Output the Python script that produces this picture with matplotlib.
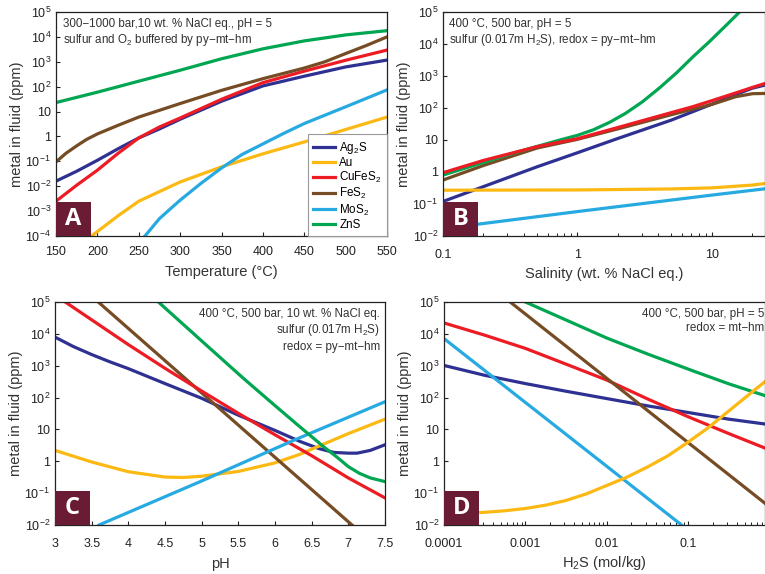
import math
import matplotlib
matplotlib.use("Agg")
import matplotlib.pyplot as plt
from matplotlib.patches import Rectangle
from matplotlib.ticker import FixedLocator, FuncFormatter, NullLocator, LogLocator, NullFormatter

plt.rcParams['font.family'] = ['Liberation Sans', 'DejaVu Sans']
plt.rcParams['mathtext.fontset'] = 'custom'
plt.rcParams['mathtext.rm'] = 'Liberation Sans'
plt.rcParams['mathtext.it'] = 'Liberation Sans'

minerals = ['Ag$_2$S', 'Au', 'CuFeS$_2$', 'FeS$_2$', 'MoS$_2$', 'ZnS']
colors = ['#2E3192', '#FDB913', '#ED1C24', '#754C24', '#27AAE1', '#00A651']

# Panel A: temperature (°C) vs metal in fluid (ppm)
a_ag2s_T = [150, 175, 200, 225, 250, 275, 300, 350, 400, 450, 500, 550]
a_ag2s = [0.016, 0.04, 0.11, 0.32, 0.87, 2.0, 4.9, 26, 107, 263, 620, 1170]
a_au_T = [185, 193, 225, 250, 300, 350, 400, 450, 500, 550]
a_au = [0.00007, 0.0001, 0.00065, 0.0025, 0.0148, 0.060, 0.20, 0.60, 1.9, 6.0]
a_cufes2_T = [150, 175, 200, 225, 250, 275, 300, 350, 400, 450, 500, 550]
a_cufes2 = [0.0025, 0.011, 0.044, 0.21, 0.87, 2.4, 5.5, 31, 145, 420, 1150, 2950]
a_fes2_T = [150, 162, 175, 187, 200, 225, 250, 300, 350, 400, 450, 475, 500, 525, 550]
a_fes2 = [0.095, 0.21, 0.42, 0.76, 1.26, 2.8, 6.0, 21, 71, 209, 560, 1000, 2140, 4500, 10000]
a_mos2_T = [252, 275, 300, 325, 350, 375, 400, 425, 450, 500, 550]
a_mos2 = [0.00006, 0.0005, 0.00275, 0.0129, 0.054, 0.19, 0.50, 1.32, 3.3, 15.5, 74]
a_zns_T = [150, 200, 250, 300, 350, 400, 450, 500, 550]
a_zns = [23, 60, 166, 457, 1320, 3310, 6900, 12000, 17800]

# Panel B: salinity (wt. % NaCl eq.) vs ppm
b_ag2s_S = [0.1, 0.2, 0.5, 1, 2, 5, 10, 15, 20, 25]
b_ag2s = [0.12, 0.35, 1.45, 4.0, 11.2, 42, 132, 263, 417, 525]
b_au_S = [0.1, 1, 5, 10, 20, 25]
b_au = [0.27, 0.275, 0.295, 0.32, 0.39, 0.44]
b_cufes2_S = [0.1, 0.2, 0.5, 1, 2.3, 5, 7.2, 10, 15, 20, 25]
b_cufes2 = [0.95, 2.3, 6.2, 11, 29, 72, 110, 170, 295, 440, 590]
b_fes2_S = [0.1, 0.2, 0.5, 1, 2.3, 5, 10, 15, 20, 25]
b_fes2 = [0.56, 1.6, 5.6, 10.5, 26, 62, 130, 225, 280, 285]
b_mos2_S = [0.1, 1, 10, 25]
b_mos2 = [0.017, 0.058, 0.19, 0.30]
b_zns_S = [0.1, 0.2, 0.3, 0.5, 0.74, 1, 1.32, 1.74, 2.29, 3.05, 4.08, 5.46, 7.18, 9.6, 12.8, 16.6]
b_zns = [0.8, 2.0, 3.4, 6.3, 10, 14, 21, 36, 69, 158, 427, 1260, 3890, 12000, 39000, 115000]

# Panel C: pH vs ppm
c_ag2s_pH = [3, 3.25, 3.5, 3.75, 4, 4.5, 5, 5.5, 6, 6.34, 6.6, 6.8, 7.0, 7.12, 7.3, 7.5]
c_ag2s = [7900, 4000, 2240, 1320, 810, 275, 95, 28, 9.3, 4.2, 2.5, 1.9, 1.8, 1.8, 2.2, 3.3]
c_au_pH = [3, 3.5, 4, 4.5, 4.75, 5, 5.5, 6, 6.34, 6.5, 7, 7.5]
c_au = [2.2, 0.95, 0.47, 0.32, 0.31, 0.34, 0.48, 0.89, 1.66, 2.4, 7.4, 21]
c_cufes2_pH = [3.14, 4, 4.5, 5, 5.5, 6, 6.5, 7, 7.5]
c_cufes2 = [100000, 4600, 830, 160, 32, 6.8, 1.5, 0.30, 0.071]
c_fes2_pH = [3.59, 7.05]
c_fes2 = [100000, 0.01]
c_mos2_pH = [3.6, 4.98, 6.25, 7.5]
c_mos2 = [0.01, 0.23, 4.5, 74]
c_zns_pH = [4.41, 5, 5.57, 6, 6.33, 6.66, 6.85, 7.0, 7.15, 7.3, 7.5]
c_zns = [100000, 6000, 400, 56, 12.6, 2.9, 1.32, 0.68, 0.42, 0.30, 0.23]

# Panel D: H2S (mol/kg) vs ppm
d_H = [0.0001, 0.000316, 0.001, 0.00316, 0.01, 0.0316, 0.1, 0.316, 0.88]
d_ag2s = [1020, 500, 275, 158, 93, 55, 34, 21, 14.8]
d_cufes2 = [22000, 9100, 3500, 1120, 355, 91, 25, 7.4, 2.6]
d_au_H = [0.0001, 0.000178, 0.000316, 0.000562, 0.001, 0.00178, 0.00316, 0.00562, 0.01,
          0.0178, 0.0316, 0.0562, 0.1, 0.178, 0.316, 0.562, 0.88]
d_au = [0.023, 0.0234, 0.025, 0.028, 0.033, 0.042, 0.059, 0.095, 0.174,
        0.32, 0.66, 1.48, 4.0, 11.5, 38, 126, 316]
d_fes2_H = [0.00065, 0.88]
d_fes2 = [100000, 0.048]
d_mos2_H = [0.0001, 0.083]
d_mos2 = [7100, 0.01]
d_zns_H = [0.001, 0.01, 0.0316, 0.12, 0.316, 0.88]
d_zns = [100000, 7400, 2340, 660, 270, 115]

W, H = 765, 574
fig = plt.figure(figsize=(W / 100, H / 100), dpi=100)


def px_axes(x0, y0, x1, y1):
    return fig.add_axes([x0 / W, 1 - y1 / H, (x1 - x0) / W, (y1 - y0) / H])


def yfmt(v, pos):
    if abs(v - 1) < 1e-9:
        return '1'
    if abs(v - 10) < 1e-9:
        return '10'
    return '10$^{%d}$' % int(round(math.log10(v)))


def style(ax, ylo, yhi, xpad):
    ax.set_yscale('log')
    ax.set_ylim(10.0 ** ylo, 10.0 ** yhi)
    ax.yaxis.set_major_locator(FixedLocator([10.0 ** e for e in range(ylo, yhi + 1)]))
    ax.yaxis.set_major_formatter(FuncFormatter(yfmt))
    ax.yaxis.set_minor_locator(NullLocator())
    ax.tick_params(direction='in', labelsize=9, length=3, width=0.8, colors='#222222')
    ax.tick_params(axis='x', pad=xpad)
    ax.set_ylabel('metal in fluid (ppm)', fontsize=10.5, color='#333333', labelpad=1)
    for s in ax.spines.values():
        s.set_linewidth(0.9)
        s.set_color('#222222')


def tag(ax, letter):
    bb = ax.get_position()
    w = 35 / W / bb.width
    h = 34 / H / bb.height
    ax.add_patch(Rectangle((0, 0), w, h, transform=ax.transAxes,
                           facecolor='#6B1C35', edgecolor='none', zorder=5, clip_on=False))
    ax.text(w / 2, h / 2, letter, transform=ax.transAxes, ha='center', va='center',
            color='white', fontsize=17, fontweight='bold', zorder=6,
            family=['Open Sans', 'DejaVu Sans'])


lw = 2.3
note = dict(fontsize=8.4, color='#333333', linespacing=1.25)

# ---- A ----
axA = px_axes(56, 12, 387, 236)
lines = []
lines += axA.plot(a_ag2s_T, a_ag2s, color=colors[0], lw=lw)
lines += axA.plot(a_au_T, a_au, color=colors[1], lw=lw)
lines += axA.plot(a_cufes2_T, a_cufes2, color=colors[2], lw=lw)
lines += axA.plot(a_fes2_T, a_fes2, color=colors[3], lw=lw)
lines += axA.plot(a_mos2_T, a_mos2, color=colors[4], lw=lw)
lines += axA.plot(a_zns_T, a_zns, color=colors[5], lw=lw)
axA.set_xlim(150, 550)
axA.set_xticks(range(150, 551, 50))
style(axA, -4, 5, 7)
axA.set_xlabel('Temperature (°C)', fontsize=10.5, color='#333333', labelpad=5)
axA.text(0.02, 0.975, '300\u22121000 bar,10 wt. % NaCl eq., pH = 5\nsulfur and O$_2$ buffered by py\u2212mt\u2212hm',
         transform=axA.transAxes, ha='left', va='top', **note)
leg = axA.legend(lines, minerals, loc='lower right', bbox_to_anchor=(1.0, 0.0), fontsize=8.4,
                 handlelength=1.9, labelspacing=0.1, borderaxespad=0, fancybox=False,
                 framealpha=1, edgecolor='#999999', borderpad=0.45, handletextpad=0.35)
leg.get_frame().set_linewidth(0.8)
tag(axA, 'A')

# ---- B ----
axB = px_axes(443, 12, 765, 236)
axB.plot(b_ag2s_S, b_ag2s, color=colors[0], lw=lw)
axB.plot(b_au_S, b_au, color=colors[1], lw=lw)
axB.plot(b_fes2_S, b_fes2, color=colors[3], lw=lw)
axB.plot(b_zns_S, b_zns, color=colors[5], lw=lw)
axB.plot(b_cufes2_S, b_cufes2, color=colors[2], lw=lw)
axB.plot(b_mos2_S, b_mos2, color=colors[4], lw=lw)
axB.set_xscale('log')
axB.set_xlim(0.1, 24.8)
axB.set_xticks([0.1, 1, 10])
axB.set_xticklabels(['0.1', '1', '10'])
axB.xaxis.set_minor_locator(LogLocator(subs=range(2, 10)))
axB.xaxis.set_minor_formatter(NullFormatter())
style(axB, -2, 5, 9.5)
axB.tick_params(which='minor', direction='in', length=2, width=0.6)
axB.set_xlabel('Salinity (wt. % NaCl eq.)', fontsize=10.5, color='#333333', labelpad=4)
axB.text(0.02, 0.975, '400 \u00b0C, 500 bar, pH = 5\nsulfur (0.017m H$_2$S), redox = py\u2212mt\u2212hm',
         transform=axB.transAxes, ha='left', va='top', **note)
tag(axB, 'B')

# ---- C ----
axC = px_axes(55, 302, 385, 525)
axC.plot(c_ag2s_pH, c_ag2s, color=colors[0], lw=lw)
axC.plot(c_au_pH, c_au, color=colors[1], lw=lw)
axC.plot(c_fes2_pH, c_fes2, color=colors[3], lw=lw)
axC.plot(c_cufes2_pH, c_cufes2, color=colors[2], lw=lw)
axC.plot(c_mos2_pH, c_mos2, color=colors[4], lw=lw)
axC.plot(c_zns_pH, c_zns, color=colors[5], lw=lw)
axC.set_xlim(3, 7.5)
axC.set_xticks([3, 3.5, 4, 4.5, 5, 5.5, 6, 6.5, 7, 7.5])
axC.set_xticklabels(['3', '3.5', '4', '4.5', '5', '5.5', '6', '6.5', '7', '7.5'])
style(axC, -2, 5, 9.5)
axC.set_xlabel('pH', fontsize=10.5, color='#333333', labelpad=5)
axC.text(0.985, 0.975, '400 \u00b0C, 500 bar, 10 wt. % NaCl eq.\nsulfur (0.017m H$_2$S)\nredox = py\u2212mt\u2212hm',
         transform=axC.transAxes, ha='right', va='top', multialignment='right', **note)
tag(axC, 'C')

# ---- D ----
axD = px_axes(444, 302, 765, 525)
axD.plot(d_H, d_ag2s, color=colors[0], lw=lw)
axD.plot(d_zns_H, d_zns, color=colors[5], lw=lw)
axD.plot(d_H, d_cufes2, color=colors[2], lw=lw)
axD.plot(d_fes2_H, d_fes2, color=colors[3], lw=lw)
axD.plot(d_mos2_H, d_mos2, color=colors[4], lw=lw)
axD.plot(d_au_H, d_au, color=colors[1], lw=lw)
axD.set_xscale('log')
axD.set_xlim(0.0001, 0.88)
axD.set_xticks([0.0001, 0.001, 0.01, 0.1])
axD.set_xticklabels(['0.0001', '0.001', '0.01', '0.1'])
axD.xaxis.set_minor_locator(LogLocator(subs=range(2, 10)))
axD.xaxis.set_minor_formatter(NullFormatter())
style(axD, -2, 5, 9.5)
axD.tick_params(which='minor', direction='in', length=2, width=0.6)
axD.set_xlabel('H$_2$S (mol/kg)', fontsize=10.5, color='#333333', labelpad=3)
axD.text(0.997, 0.975, '400 \u00b0C, 500 bar, pH = 5\nredox = mt\u2212hm',
         transform=axD.transAxes, ha='right', va='top', multialignment='right', **note)
tag(axD, 'D')

fig.savefig('out.png', dpi=100)
